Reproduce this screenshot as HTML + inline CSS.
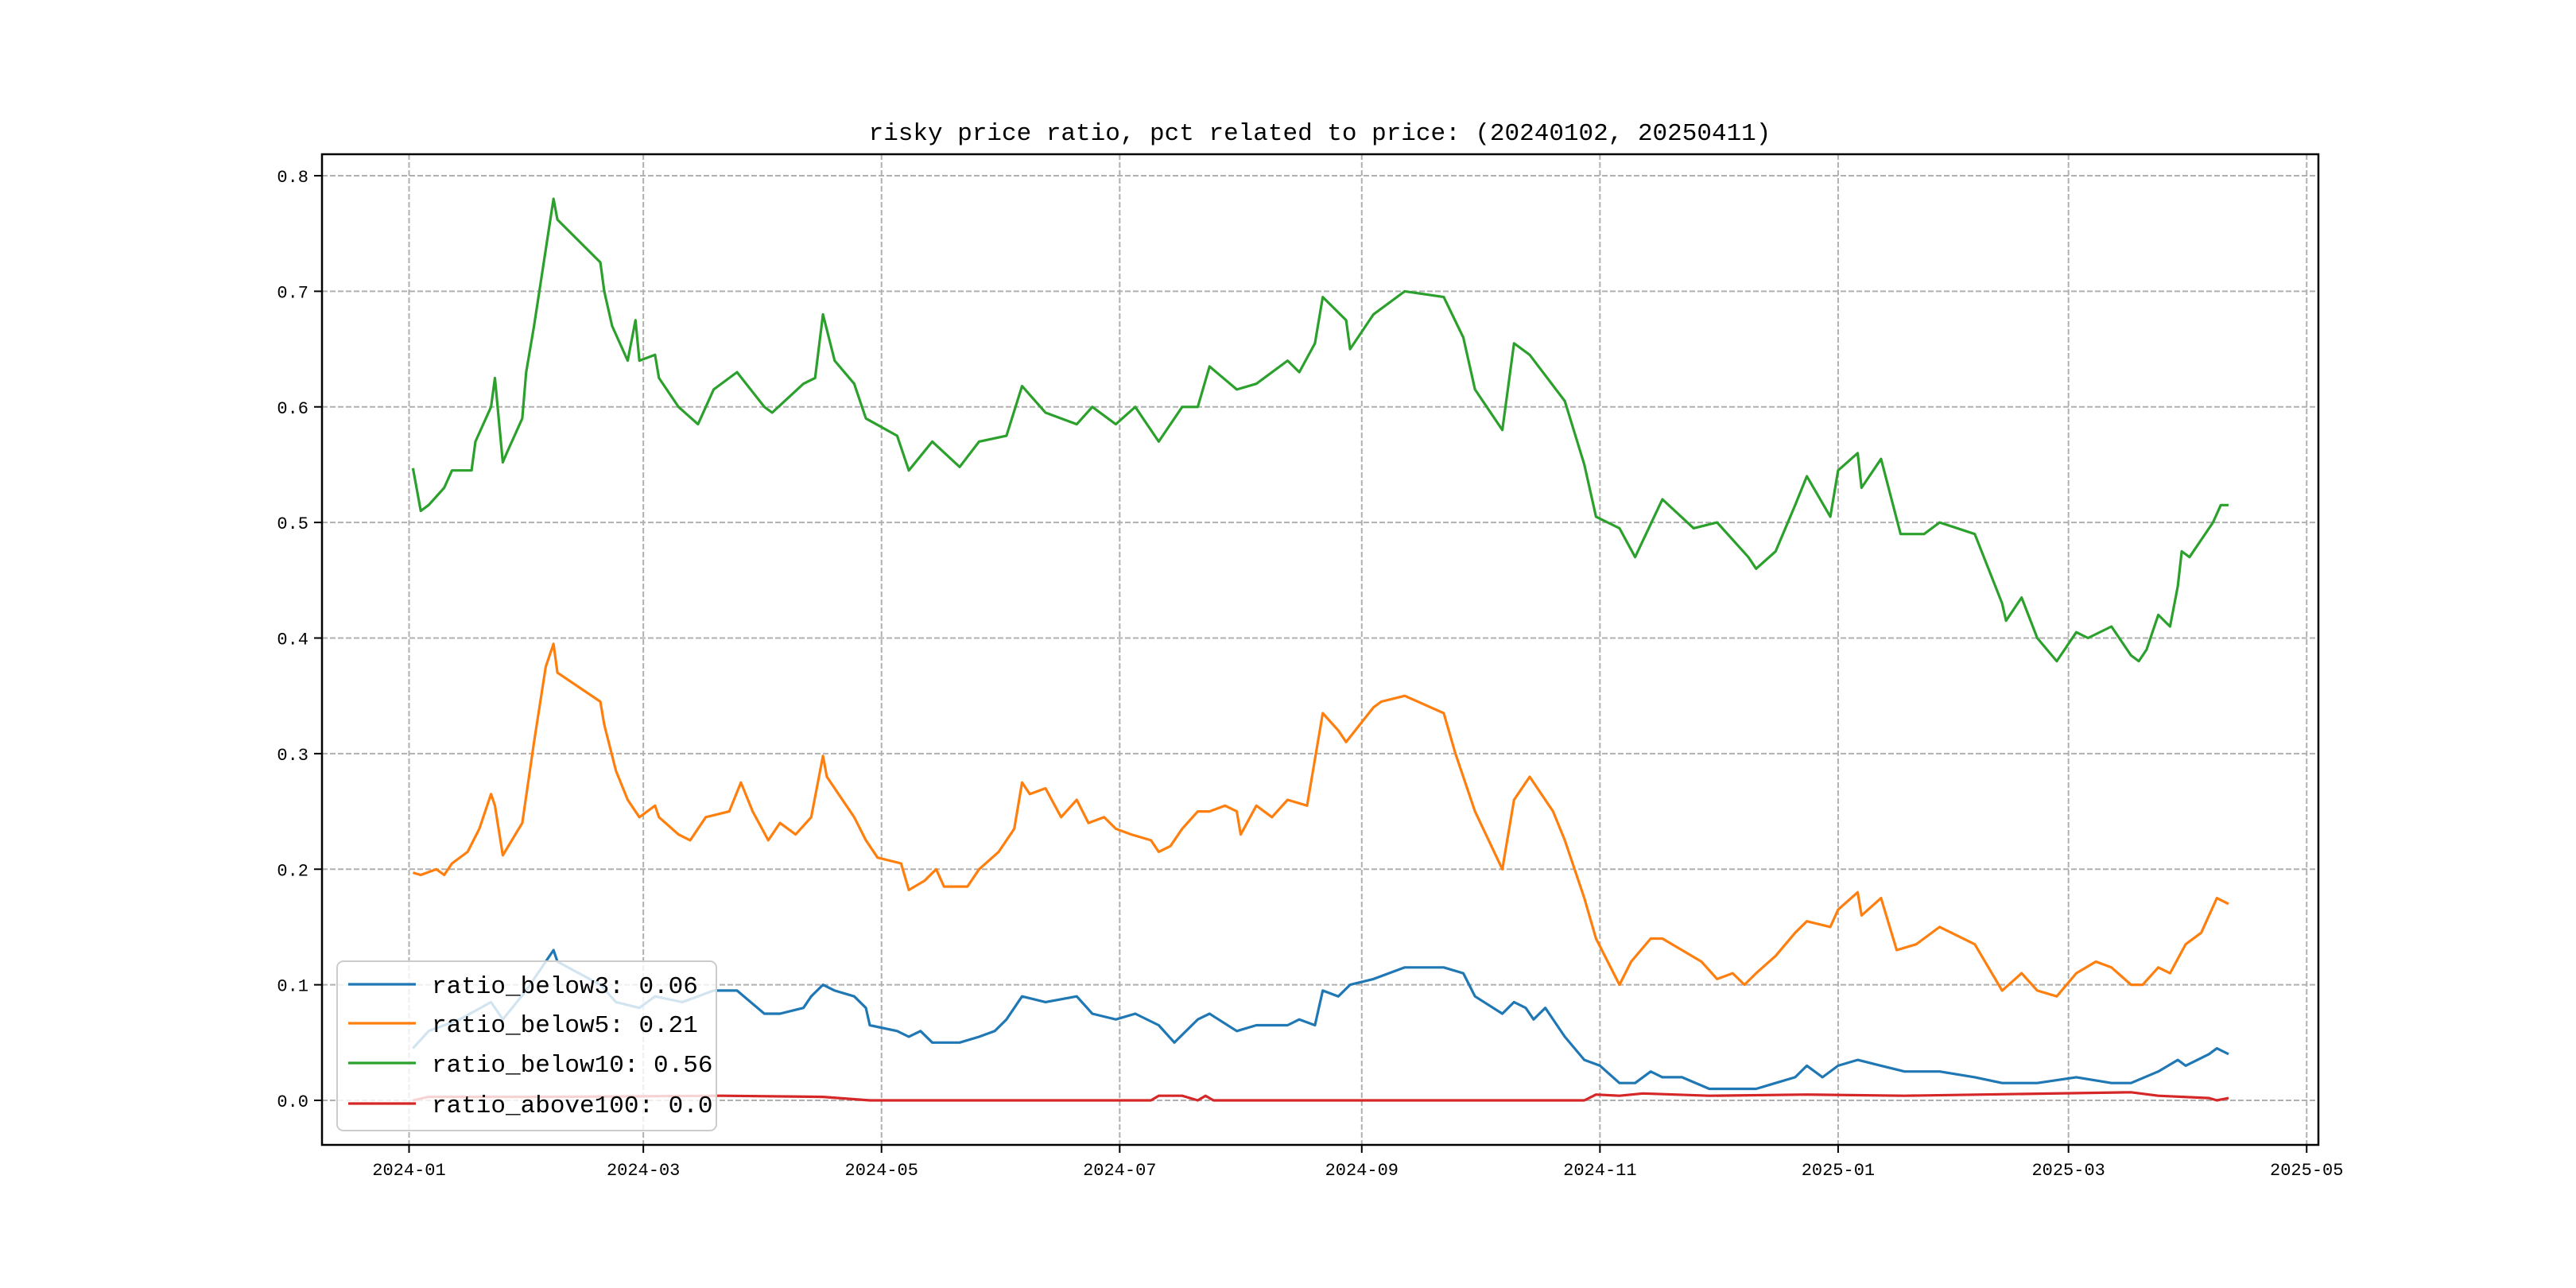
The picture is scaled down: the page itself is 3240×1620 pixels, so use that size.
<!DOCTYPE html>
<html><head><meta charset="utf-8"><style>
body{margin:0;background:#fff}
svg{display:block}
text{font-family:"Liberation Mono","Noto Sans CJK SC",monospace;fill:#000}
</style></head><body>
<svg id="chart" width="3240" height="1620" viewBox="0 0 3240 1620" xmlns="http://www.w3.org/2000/svg">
<rect width="3240" height="1620" fill="#fff"/>
<text x="1660" y="176" font-size="31" text-anchor="middle">risky price ratio, pct related to price: (20240102, 20250411)</text>
<g id="grid"></g>
<g id="series"></g>
<rect x="405" y="194" width="2511" height="1246" fill="none" stroke="#000" stroke-width="2.5"/>
<g id="ticks"></g>
<g id="legend"></g>
</svg>
<script>
const tickDays=[0,60,121,182,244,305,366,425,486];
const tickLabels=["2024-01","2024-03","2024-05","2024-07","2024-09","2024-11","2025-01","2025-03","2025-05"];
const yTicks=[0,0.1,0.2,0.3,0.4,0.5,0.6,0.7,0.8];
const yTickLabels=["0.0","0.1","0.2","0.3","0.4","0.5","0.6","0.7","0.8"];
const seriesNames=["ratio_below3: 0.06","ratio_below5: 0.21","ratio_below10: 0.56","ratio_above100: 0.0"];
const seriesColors=["#1f77b4","#ff7f0e","#2ca02c","#d62728"];
const below3Days=[1,5,13,21,24,30,37,38,49,53,59,63,70,74,78,84,91,95,101,103,106,109,114,117,118,125,128,131,134,141,146,150,153,157,163,171,175,181,186,192,196,202,205,212,217,225,228,232,234,238,241,247,255,265,270,273,280,283,286,288,291,296,301,305,310,314,318,321,326,333,345,350,355,358,362,366,371,377,383,392,401,408,417,427,436,441,448,453,455,461,463,466];
const below3Vals=[0.045,0.06,0.07,0.085,0.07,0.095,0.13,0.12,0.10,0.085,0.08,0.09,0.085,0.09,0.095,0.095,0.075,0.075,0.08,0.09,0.10,0.095,0.09,0.08,0.065,0.06,0.055,0.06,0.05,0.05,0.055,0.06,0.07,0.09,0.085,0.09,0.075,0.07,0.075,0.065,0.05,0.07,0.075,0.06,0.065,0.065,0.07,0.065,0.095,0.09,0.10,0.105,0.115,0.115,0.11,0.09,0.075,0.085,0.08,0.07,0.08,0.055,0.035,0.03,0.015,0.015,0.025,0.02,0.02,0.01,0.01,0.015,0.02,0.03,0.02,0.03,0.035,0.03,0.025,0.025,0.02,0.015,0.015,0.02,0.015,0.015,0.025,0.035,0.03,0.04,0.045,0.04];
const below5Days=[1,3,7,9,11,15,18,21,22,24,29,32,35,37,38,49,50,53,56,58,59,63,64,69,72,76,82,85,88,92,95,99,103,106,107,111,114,117,120,126,128,132,135,137,143,146,151,155,157,159,163,167,171,174,178,181,185,190,192,195,198,202,205,209,212,213,217,221,225,230,234,238,240,247,249,255,265,268,273,280,283,287,293,296,301,304,310,313,318,321,326,331,335,339,342,345,350,355,358,364,366,371,372,377,381,386,392,401,408,413,417,422,427,432,436,441,444,448,451,455,459,463,466];
const below5Vals=[0.197,0.195,0.20,0.195,0.205,0.215,0.235,0.265,0.255,0.212,0.24,0.31,0.375,0.395,0.37,0.345,0.325,0.285,0.26,0.25,0.245,0.255,0.245,0.23,0.225,0.245,0.25,0.275,0.25,0.225,0.24,0.23,0.245,0.298,0.28,0.26,0.245,0.225,0.21,0.205,0.182,0.19,0.20,0.185,0.185,0.20,0.215,0.235,0.275,0.265,0.27,0.245,0.26,0.24,0.245,0.235,0.23,0.225,0.215,0.22,0.235,0.25,0.25,0.255,0.25,0.23,0.255,0.245,0.26,0.255,0.335,0.32,0.31,0.34,0.345,0.35,0.335,0.30,0.25,0.20,0.26,0.28,0.25,0.225,0.175,0.14,0.10,0.12,0.14,0.14,0.13,0.12,0.105,0.11,0.10,0.11,0.125,0.145,0.155,0.15,0.165,0.18,0.16,0.175,0.13,0.135,0.15,0.135,0.095,0.11,0.095,0.09,0.11,0.12,0.115,0.10,0.10,0.115,0.11,0.135,0.145,0.175,0.17];
const below10Days=[1,3,5,9,11,14,16,17,19,21,22,24,25,27,29,30,32,37,38,49,50,52,56,58,59,63,64,69,74,78,84,91,93,101,104,106,109,114,117,125,128,134,141,146,153,157,163,171,175,181,186,192,198,202,205,212,217,225,228,232,234,240,241,247,249,255,265,270,273,280,283,287,296,301,304,310,314,321,329,335,343,345,350,355,358,364,366,371,372,377,382,388,392,401,408,409,413,417,422,427,430,436,441,443,445,448,451,453,454,456,462,464,466];
const below10Vals=[0.547,0.51,0.515,0.53,0.545,0.545,0.545,0.57,0.585,0.60,0.625,0.552,0.56,0.575,0.59,0.63,0.67,0.78,0.762,0.725,0.70,0.67,0.64,0.675,0.64,0.645,0.625,0.60,0.585,0.615,0.63,0.60,0.595,0.62,0.625,0.68,0.64,0.62,0.59,0.575,0.545,0.57,0.548,0.57,0.575,0.618,0.595,0.585,0.60,0.585,0.60,0.57,0.60,0.60,0.635,0.615,0.62,0.64,0.63,0.655,0.695,0.675,0.65,0.68,0.685,0.70,0.695,0.66,0.615,0.58,0.655,0.645,0.605,0.55,0.505,0.495,0.47,0.52,0.495,0.50,0.47,0.46,0.475,0.515,0.54,0.505,0.545,0.56,0.53,0.555,0.49,0.49,0.50,0.49,0.43,0.415,0.435,0.40,0.38,0.405,0.40,0.41,0.385,0.38,0.39,0.42,0.41,0.445,0.475,0.47,0.50,0.515,0.515];
const above100Days=[1,5,35,80,106,118,190,192,198,202,204,206,301,304,310,316,333,358,383,441,448,461,463,466];
const above100Vals=[0,0.003,0.003,0.004,0.003,0,0,0.004,0.004,0,0.004,0,0,0.005,0.004,0.006,0.004,0.005,0.004,0.007,0.004,0.002,0,0.002];

const NS="http://www.w3.org/2000/svg";
const X0=405,X1=2916,Y0=194,Y1=1440;
function xScale(d){return 514.5+d*4.911;}
function yScale(v){return 1384-v*1453.75;}
function mk(tag,attrs,parent){const e=document.createElementNS(NS,tag);for(const k in attrs)e.setAttribute(k,attrs[k]);parent.appendChild(e);return e;}
const grid=document.getElementById('grid'),ticks=document.getElementById('ticks'),ser=document.getElementById('series'),leg=document.getElementById('legend');
tickDays.forEach((d,i)=>{
  const x=xScale(d);
  const g=mk('line',{x1:x,x2:x,y1:Y0,y2:Y1,stroke:'#b0b0b0','stroke-width':2,'stroke-dasharray':'7,3'},grid);
  
  
  const t=mk('line',{x1:x,x2:x,y1:Y1,y2:Y1+10,stroke:'#000','stroke-width':2},ticks);
  
  
  const l=mk('text',{x:x,y:1478,'font-size':22,'text-anchor':'middle'},ticks);
  l.textContent=tickLabels[i];
  
  
});
yTicks.forEach((v,i)=>{
  const y=yScale(v);
  const g=mk('line',{x1:X0,x2:X1,y1:y,y2:y,stroke:'#b0b0b0','stroke-width':2,'stroke-dasharray':'7,3'},grid);
  
  
  const t=mk('line',{x1:X0-10,x2:X0,y1:y,y2:y,stroke:'#000','stroke-width':2},ticks);
  
  
  const l=mk('text',{x:X0-17,y:y+8,'font-size':22,'text-anchor':'end'},ticks);
  l.textContent=yTickLabels[i];
  
  
});
const allDays=[below3Days,below5Days,below10Days,above100Days];
const allVals=[below3Vals,below5Vals,below10Vals,above100Vals];
const lineNames=['ratio-below3-line','ratio-below5-line','ratio-below10-line','ratio-above100-line'];
allDays.forEach((days,s)=>{
  const pts=days.map((d,i)=>xScale(d).toFixed(1)+','+yScale(allVals[s][i]).toFixed(1)).join(' ');
  const p=mk('polyline',{points:pts,fill:'none',stroke:seriesColors[s],'stroke-width':3.2,'stroke-linejoin':'round'},ser);
  
  
});
const box=mk('rect',{x:424,y:1209,width:477,height:213,rx:8,fill:'#fff','fill-opacity':0.8,stroke:'#cccccc','stroke-width':2},leg);


const ly=[1238,1287,1337,1388];
seriesNames.forEach((n,i)=>{
  const ln=mk('line',{x1:438,x2:523,y1:ly[i],y2:ly[i],stroke:seriesColors[i],'stroke-width':3.2},leg);
  
  
  const t=mk('text',{x:543,y:ly[i]+11,'font-size':31},leg);
  t.textContent=n;
  
  
});
</script>
</body></html>
